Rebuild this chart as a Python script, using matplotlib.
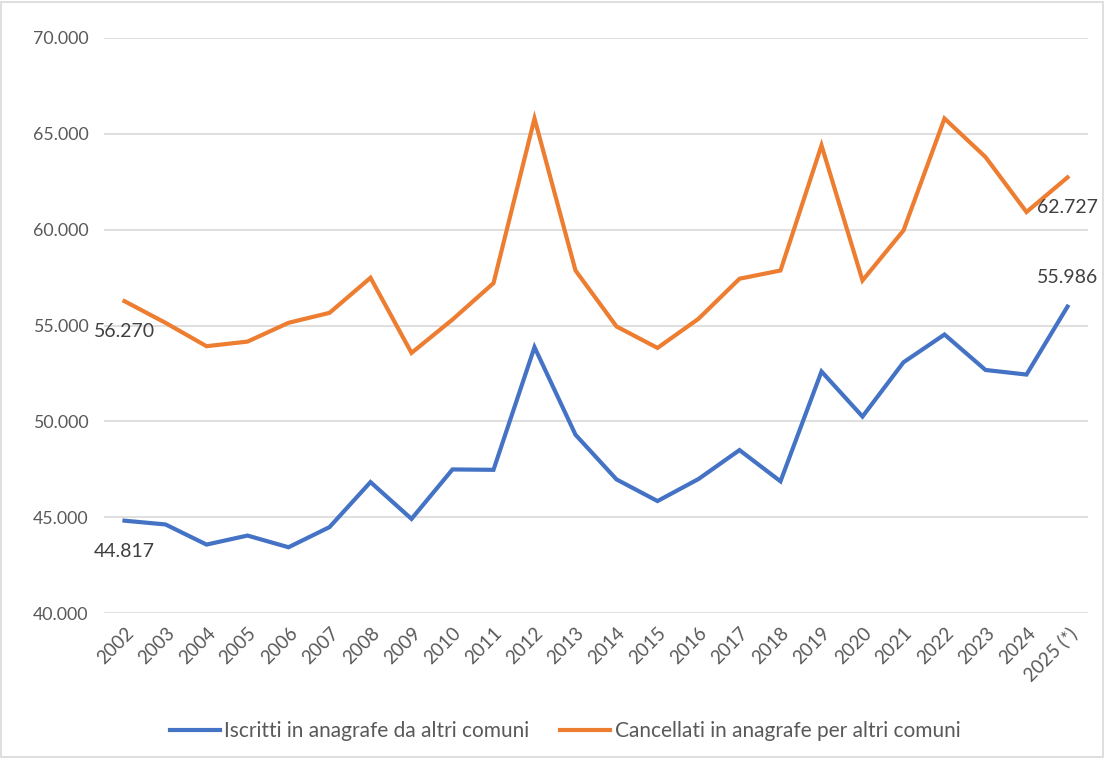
import matplotlib.pyplot as plt
from matplotlib.patches import Rectangle
from matplotlib.ticker import FuncFormatter

plt.rcParams['font.family'] = ['Lato', 'DejaVu Sans']

# ---------------------------------------------------------------
#  Dati
# ---------------------------------------------------------------
anni = ['2002', '2003', '2004', '2005', '2006', '2007', '2008', '2009',
        '2010', '2011', '2012', '2013', '2014', '2015', '2016', '2017',
        '2018', '2019', '2020', '2021', '2022', '2023', '2024', '2025 (*)']

iscritti = [44817, 44620, 43570, 44040, 43430, 44480, 46830, 44910,
            47490, 47470, 53870, 49300, 46970, 45840, 46990, 48500,
            46870, 52600, 50250, 53080, 54530, 52680, 52440, 55986]

cancellati = [56270, 55140, 53920, 54160, 55140, 55660, 57490, 53570,
              55310, 57210, 65800, 57870, 54950, 53830, 55350, 57440,
              57870, 64400, 57350, 59960, 65800, 63790, 60920, 62727]

lab_iscritti = 'Iscritti in anagrafe da altri comuni'
lab_cancellati = 'Cancellati in anagrafe per altri comuni'

BLU = '#4472C4'
ARANCIO = '#ED7D31'
GRIGIO = '#595959'

# ---------------------------------------------------------------
#  Figura
# ---------------------------------------------------------------
fig = plt.figure(figsize=(11.05, 7.58), dpi=100)
ax = fig.add_axes([104 / 1105, 1 - 613 / 758, (1088 - 104) / 1105, (613 - 38) / 758])

x = list(range(len(anni)))
ax.plot(x, iscritti, color=BLU, lw=3.0, label=lab_iscritti, solid_joinstyle='miter')
ax.plot(x, cancellati, color=ARANCIO, lw=3.0, label=lab_cancellati, solid_joinstyle='miter')

ax.set_xlim(-0.5, len(anni) - 0.5)
ax.set_ylim(40000, 70000)
ax.set_yticks(range(40000, 70001, 5000))
ax.yaxis.set_major_formatter(FuncFormatter(lambda v, p: f'{int(v):,}'.replace(',', '.')))
ax.set_xticks(x)
ax.set_xticklabels(anni, rotation=45, ha='right', rotation_mode='anchor')

ax.grid(axis='y', color='#d9d9d9', lw=1.2)
ax.set_axisbelow(True)
for s in ax.spines.values():
    s.set_visible(False)
ax.tick_params(axis='both', length=0, labelsize=12.8, colors=GRIGIO)
ax.tick_params(axis='x', labelsize=13.5, pad=8)
ax.tick_params(axis='y', pad=11)

# etichette dati (primo e ultimo punto)
kw = dict(textcoords='offset points', ha='center', va='center',
          fontsize=14, color='#404040')
ax.annotate(f'{iscritti[0]:,}'.replace(',', '.'), (x[0], iscritti[0]), xytext=(0, -22), **kw)
ax.annotate(f'{cancellati[0]:,}'.replace(',', '.'), (x[0], cancellati[0]), xytext=(0, -22), **kw)
ax.annotate(f'{iscritti[-1]:,}'.replace(',', '.'), (x[-1], iscritti[-1]), xytext=(0, 21), **kw)
ax.annotate(f'{cancellati[-1]:,}'.replace(',', '.'), (x[-1], cancellati[-1]), xytext=(0, -22), **kw)

fig.legend(loc='center', bbox_to_anchor=(565 / 1105, 1 - 731 / 758), ncol=2,
           frameon=False, fontsize=15, labelcolor=GRIGIO, handlelength=2.4,
           handletextpad=0.2, columnspacing=1.5)

# bordo dell'area grafico
fig.patches.append(Rectangle((0.001, 0.001), 0.997, 0.997, transform=fig.transFigure,
                             fill=False, ec='#d9d9d9', lw=1.2))

fig.savefig('out.png', dpi=100)
